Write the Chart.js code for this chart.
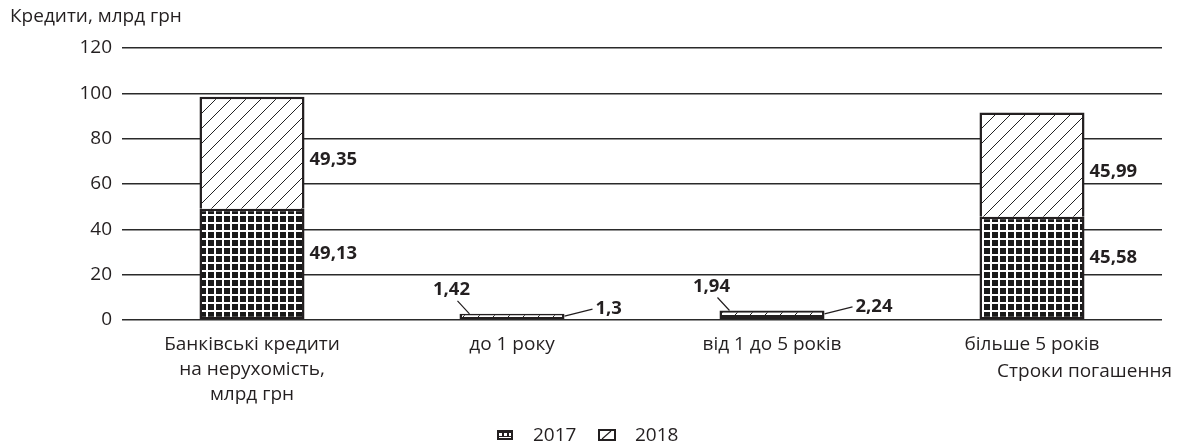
<!DOCTYPE html>
<html>
<head>
<meta charset="utf-8">
<script src="https://cdn.jsdelivr.net/npm/chart.js@4"></script>
<style>
  html, body { margin: 0; padding: 0; background: #fff; }
  #wrap { width: 1180px; height: 447px; }
</style>
</head>
<body>
<div id="wrap"><canvas id="chart" width="1180" height="447"></canvas></div>
<script>
// Data
const categories = [
  ['Банківські кредити', 'на нерухомість,', 'млрд грн'],
  'до 1 року',
  'від 1 до 5 років',
  'більше 5 років'
];
const values2017 = [49.13, 1.3, 2.24, 45.58];
const values2018 = [49.35, 1.42, 1.94, 45.99];
const labels2017 = ['49,13', '1,3', '2,24', '45,58'];
const labels2018 = ['49,35', '1,42', '1,94', '45,99'];
const seriesNames = ['2017', '2018'];
const yTicks = [0, 20, 40, 60, 80, 100, 120];

const FONT = '"Open Sans", "Noto Sans", sans-serif';
const INK = '#231f20';

// patterns
const makeGridPattern = () => {
  const c = document.createElement('canvas');
  c.width = 8; c.height = 8;
  const g = c.getContext('2d');
  g.fillStyle = '#fff';
  g.fillRect(0, 0, 8, 8);
  g.fillStyle = '#1a1a1a';
  g.fillRect(0, 0, 6, 6);
  return g.createPattern(c, 'repeat');
};

const makeHatchPattern = () => {
  const s = 15;
  const c = document.createElement('canvas');
  c.width = s; c.height = s;
  const g = c.getContext('2d');
  g.fillStyle = '#fff';
  g.fillRect(0, 0, s, s);
  g.strokeStyle = '#222';
  g.lineWidth = 1;
  g.beginPath();
  g.moveTo(-2, s + 2); g.lineTo(s + 2, -2);
  g.moveTo(-2, 2); g.lineTo(2, -2);
  g.moveTo(s - 2, s + 2); g.lineTo(s + 2, s - 2);
  g.stroke();
  return g.createPattern(c, 'repeat');
};

const gridPattern = makeGridPattern();
const hatchPattern = makeHatchPattern();

// value labels, axis titles and legend
const extrasPlugin = {
  id: 'extras',
  afterDatasetsDraw(chart) {
    const ctx = chart.ctx;
    const m17 = chart.getDatasetMeta(0).data;
    const m18 = chart.getDatasetMeta(1).data;
    ctx.save();
    ctx.fillStyle = INK;
    ctx.strokeStyle = INK;
    ctx.lineWidth = 1.2;
    ctx.font = 'bold 18.5px ' + FONT;
    ctx.textBaseline = 'middle';
    categories.forEach((cat, i) => {
      const a = m17[i], b = m18[i];
      const right = a.x + a.width / 2;
      const left = a.x - a.width / 2;
      const total = values2017[i] + values2018[i];
      if (total > 10) {
        ctx.textAlign = 'left';
        ctx.fillText(labels2017[i], right + 5, (a.y + a.base) / 2 - 10);
        ctx.fillText(labels2018[i], right + 5, (b.y + b.base) / 2 + 7);
      } else {
        // leader lines for the small bars
        ctx.beginPath();
        ctx.moveTo(left - 2, b.y - 13);
        ctx.lineTo(left + 10, b.y);
        ctx.moveTo(right, a.y - 1);
        ctx.lineTo(right + 28, a.y - 8);
        ctx.stroke();
        ctx.textAlign = 'center';
        ctx.fillText(labels2018[i], left - 8, b.y - 24);
        ctx.textAlign = 'left';
        ctx.fillText(labels2017[i], right + 31, a.y - 8);
      }
    });
    ctx.restore();
  },
  afterDraw(chart) {
    const ctx = chart.ctx;
    const area = chart.chartArea;
    ctx.save();
    ctx.fillStyle = INK;
    ctx.font = '19px ' + FONT;
    ctx.textBaseline = 'middle';
    ctx.textAlign = 'left';
    ctx.fillText('Кредити, млрд грн', 10, 17);
    ctx.textAlign = 'right';
    ctx.fillText('Строки погашення', area.right + 10, 372);

    // legend
    const ly = 435;
    // 2017 swatch: dark box with white gaps
    let x = 497;
    ctx.fillStyle = INK;
    ctx.fillRect(x, ly - 5, 16, 10);
    ctx.fillStyle = '#fff';
    ctx.fillRect(x + 2, ly - 2, 3, 3);
    ctx.fillRect(x + 7, ly - 2, 3, 3);
    ctx.fillRect(x + 12, ly - 2, 2, 3);
    ctx.fillRect(x + 2, ly + 2, 12, 1);
    ctx.fillStyle = INK;
    ctx.textAlign = 'left';
    ctx.fillText(seriesNames[0], x + 36, ly + 1);

    // 2018 swatch: open box with one diagonal
    x = 599;
    ctx.fillStyle = '#fff';
    ctx.fillRect(x, ly - 5, 16, 10);
    ctx.strokeStyle = INK;
    ctx.lineWidth = 2;
    ctx.strokeRect(x, ly - 5, 16, 10);
    ctx.lineWidth = 1.2;
    ctx.beginPath();
    ctx.moveTo(x + 3, ly + 4);
    ctx.lineTo(x + 12, ly - 4);
    ctx.stroke();
    ctx.fillStyle = INK;
    ctx.fillText(seriesNames[1], x + 36, ly + 1);
    ctx.restore();
  }
};

new Chart(document.getElementById('chart').getContext('2d'), {
  type: 'bar',
  data: {
    labels: categories,
    datasets: [
      {
        label: seriesNames[0],
        data: values2017,
        backgroundColor: gridPattern,
        borderColor: INK,
        borderWidth: 2.5,
        borderSkipped: false
      },
      {
        label: seriesNames[1],
        data: values2018,
        backgroundColor: hatchPattern,
        borderColor: INK,
        borderWidth: 2.5,
        borderSkipped: 'bottom'
      }
    ]
  },
  options: {
    responsive: false,
    animation: false,
    layout: {
      padding: { left: 0, right: 18, top: 48, bottom: 0 }
    },
    datasets: {
      bar: { categoryPercentage: 0.8, barPercentage: 0.505 }
    },
    plugins: {
      legend: { display: false },
      tooltip: { enabled: false },
      title: { display: false }
    },
    scales: {
      x: {
        stacked: true,
        grid: { display: false, drawTicks: false },
        border: { display: false },
        ticks: {
          color: INK,
          font: { family: FONT, size: 19, lineHeight: 1.32 },
          padding: 12,
          maxRotation: 0,
          autoSkip: false
        },
        afterFit(scale) { scale.height = 127; }
      },
      y: {
        stacked: true,
        min: 0,
        max: 120,
        afterBuildTicks(scale) { scale.ticks = yTicks.map(v => ({ value: v })); },
        grid: { color: '#2a2a2a', lineWidth: 1.6, drawTicks: false },
        border: { display: false },
        ticks: {
          color: INK,
          font: { family: FONT, size: 19 },
          padding: 10
        },
        afterFit(scale) { scale.width = 122; }
      }
    }
  },
  plugins: [extrasPlugin]
});
</script>
</body>
</html>
